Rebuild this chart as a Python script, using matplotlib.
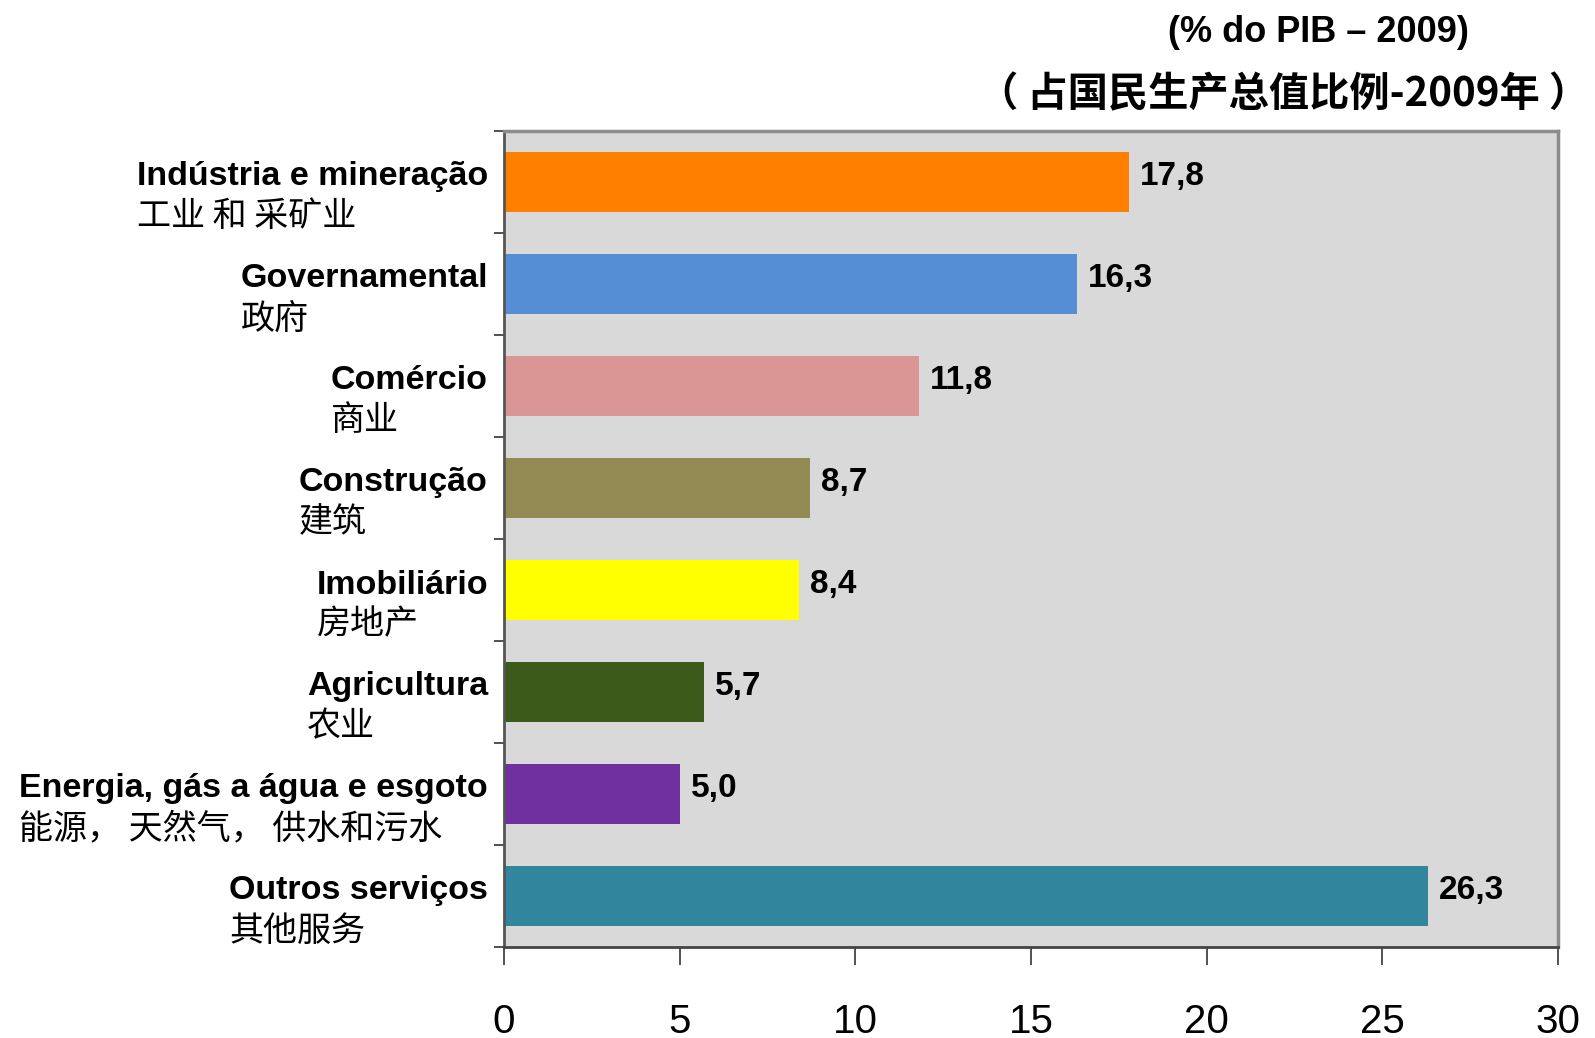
# -*- coding: utf-8 -*-
import numpy as np
import matplotlib
matplotlib.use("Agg")
import matplotlib.pyplot as plt

# donnees du graphique (% du PIB 2009)
categories_pt = ["Indústria e mineração", "Governamental", "Comércio", "Construção",
                 "Imobiliário", "Agricultura", "Energia, gás a água e esgoto", "Outros serviços"]
categories_cn = ["工业 和 采矿业", "政府", "商业", "建筑",
                 "房地产", "农业", "能源， 天然气， 供水和污水", "其他服务"]
valeurs = [17.8, 16.3, 11.8, 8.7, 8.4, 5.7, 5.0, 26.3]
couleurs = ["#FF8000", "#558ED5", "#D99694", "#948A54",
            "#FFFF00", "#3C5B1A", "#7030A0", "#31859C"]
xticks = [0, 5, 10, 15, 20, 25, 30]

LATIN = ["Liberation Sans", "DejaVu Sans"]
CJK = ["Noto Sans CJK SC", "DejaVu Sans"]

fig = plt.figure(figsize=(15.95, 10.38), dpi=100)
ax = fig.add_axes([504 / 1595, 1 - 947 / 1038, (1558 - 504) / 1595, (947 - 131) / 1038])
ax.set_facecolor("#D9D9D9")

pos = np.arange(len(valeurs))
ax.barh(pos, valeurs, height=0.58, color=couleurs, zorder=2)

ax.set_xlim(0, 30)
ax.set_ylim(len(valeurs) - 0.5, -0.5)

# ticks de l'axe x
ax.set_xticks(xticks)
ax.set_xticklabels([str(t) for t in xticks], fontsize=29, family=LATIN)
ax.tick_params(axis="x", direction="out", length=13, width=1.2, color="#333333", pad=27)

# ticks de l'axe y entre les barres, sans texte
ax.set_yticks(np.arange(-0.5, len(valeurs) + 0.5, 1))
ax.set_yticklabels([])
ax.tick_params(axis="y", direction="out", length=7, width=1.2, color="#333333")

ax.spines["left"].set_color("#555555")
ax.spines["left"].set_linewidth(2)
ax.spines["bottom"].set_color("#444444")
ax.spines["bottom"].set_linewidth(2)
ax.spines["top"].set_color("#8C8C8C")
ax.spines["top"].set_linewidth(2.5)
ax.spines["right"].set_color("#8C8C8C")
ax.spines["right"].set_linewidth(2.5)

# etiquettes des categories (portugais en gras + chinois dessous)
ytr = ax.get_yaxis_transform()
for i in range(len(valeurs)):
    t = ax.annotate(categories_pt[i], xy=(0, pos[i]), xycoords=ytr,
                    xytext=(-16, 5), textcoords="offset pixels",
                    ha="right", va="center", fontsize=24.5, fontweight="bold",
                    family=LATIN, annotation_clip=False)
    ax.annotate(categories_cn[i], xy=(0, pos[i]), xycoords=(t, ytr),
                xytext=(0, -35), textcoords="offset pixels",
                ha="left", va="center", fontsize=24.5, family=CJK,
                annotation_clip=False)

# valeurs au bout des barres
for i in range(len(valeurs)):
    ax.annotate(("%.1f" % valeurs[i]).replace(".", ","), xy=(valeurs[i], pos[i]),
                xytext=(11, 5), textcoords="offset pixels",
                ha="left", va="center", fontsize=24, fontweight="bold", family=LATIN)

# titres en haut a droite
fig.text(1318 / 1595, 1 - 33 / 1038, "(% do PIB – 2009)", ha="center", va="center",
         fontsize=26, fontweight="bold", family=LATIN)
fig.text(1284 / 1595, 1 - 95 / 1038, "（ 占国民生产总值比例-2009年 ）", ha="center", va="center",
         fontsize=29, fontweight="bold", family=CJK)

plt.savefig("out.png", dpi=100)
plt.close()
